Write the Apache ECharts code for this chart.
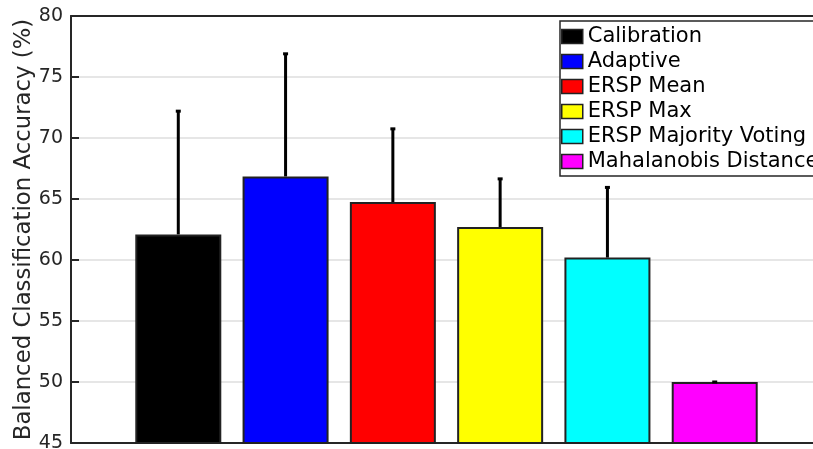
<!DOCTYPE html>
<html>
<head>
<meta charset="utf-8">
<script src="https://cdn.jsdelivr.net/npm/echarts@6/dist/echarts.min.js"></script>
<style>
  html, body { margin: 0; padding: 0; background: #fff; }
  #chart { width: 813px; height: 449px; }
</style>
</head>
<body>
<div id="chart"></div>
<script>
// Methods compared (one bar each, placed at x = 1..6)
const methods = ['Calibration', 'Adaptive', 'ERSP Mean', 'ERSP Max', 'ERSP Majority Voting', 'Mahalanobis Distance'];
// Mean balanced accuracy (%)
const meanAccuracy = [62.1, 66.85, 64.75, 62.7, 60.2, 50.0];
// Upper end of each error bar (%)
const upperAccuracy = [72.2, 76.9, 70.75, 66.65, 65.95, 50.0];
// Bar fill colours
const barColors = ['#000000', '#0000ff', '#ff0000', '#ffff00', '#00ffff', '#ff00ff'];
// Y axis range and step
const yMin = 45, yMax = 80, yStep = 5;

const FONT = 'DejaVu Sans';
const AXIS = '#262626';

const chart = echarts.init(document.getElementById('chart'), null, { renderer: 'canvas' });

const barSeries = methods.map((name, i) => ({
  name: name,
  type: 'bar',
  data: [[i + 1, meanAccuracy[i]]],
  barWidth: 86,
  barGap: '-100%',
  itemStyle: { color: barColors[i], borderColor: '#222222', borderWidth: 2 },
  emphasis: { disabled: true },
  z: 2
}));

const errorSeries = {
  type: 'custom',
  name: 'err',
  data: methods.map((m, i) => [i + 1, meanAccuracy[i], upperAccuracy[i]]),
  z: 5,
  renderItem: function (params, api) {
    const x = api.value(0);
    const lo = api.coord([x, api.value(1)]);
    const hi = api.coord([x, api.value(2)]);
    const cap = 2.5;
    return {
      type: 'group',
      children: [
        { type: 'line', shape: { x1: lo[0], y1: lo[1], x2: hi[0], y2: hi[1] },
          style: { stroke: '#000', lineWidth: 3 } },
        { type: 'line', shape: { x1: hi[0] - cap, y1: hi[1], x2: hi[0] + cap, y2: hi[1] },
          style: { stroke: '#000', lineWidth: 3 } }
      ]
    };
  }
};

chart.setOption({
  animation: false,
  backgroundColor: '#ffffff',
  textStyle: { fontFamily: FONT },
  // x runs 0..7; the plot box continues past the right edge of the canvas
  grid: { left: 71, width: 751, top: 16, bottom: 6, containLabel: false, outerBoundsMode: 'none' },
  legend: {
    data: methods,
    orient: 'vertical',
    left: 560,
    top: 21,
    padding: [5, 6, 4, 1],
    itemGap: 4,
    itemWidth: 21,
    itemHeight: 14,
    icon: 'rect',
    backgroundColor: '#ffffff',
    borderColor: AXIS,
    borderWidth: 1.5,
    borderRadius: 0,
    selectedMode: false,
    textStyle: { fontFamily: FONT, fontSize: 21, color: '#000' },
    itemStyle: { borderColor: '#222222', borderWidth: 1.5 }
  },
  xAxis: [
    {
      type: 'value', min: 0, max: 7, position: 'bottom',
      axisLine: { show: true, lineStyle: { color: AXIS, width: 2 } },
      axisTick: { show: false }, axisLabel: { show: false }, splitLine: { show: false }
    },
    {
      type: 'value', min: 0, max: 7, position: 'top',
      axisLine: { show: true, lineStyle: { color: AXIS, width: 2 } },
      axisTick: { show: false }, axisLabel: { show: false }, splitLine: { show: false }
    }
  ],
  yAxis: {
    type: 'value', min: yMin, max: yMax, interval: yStep,
    name: 'Balanced Classification Accuracy (%)',
    nameLocation: 'middle',
    nameGap: 35,
    nameMoveOverlap: false,
    nameTextStyle: { fontFamily: FONT, fontSize: 22.8, color: AXIS },
    axisLine: { show: true, lineStyle: { color: AXIS, width: 2 } },
    axisTick: { show: true, inside: true, length: 8, lineStyle: { color: AXIS, width: 2 } },
    axisLabel: { fontFamily: FONT, fontSize: 19, color: AXIS, margin: 8 },
    splitLine: { show: true, lineStyle: { color: '#dedede', width: 1.5 } }
  },
  series: barSeries.concat([errorSeries])
});
</script>
</body>
</html>
